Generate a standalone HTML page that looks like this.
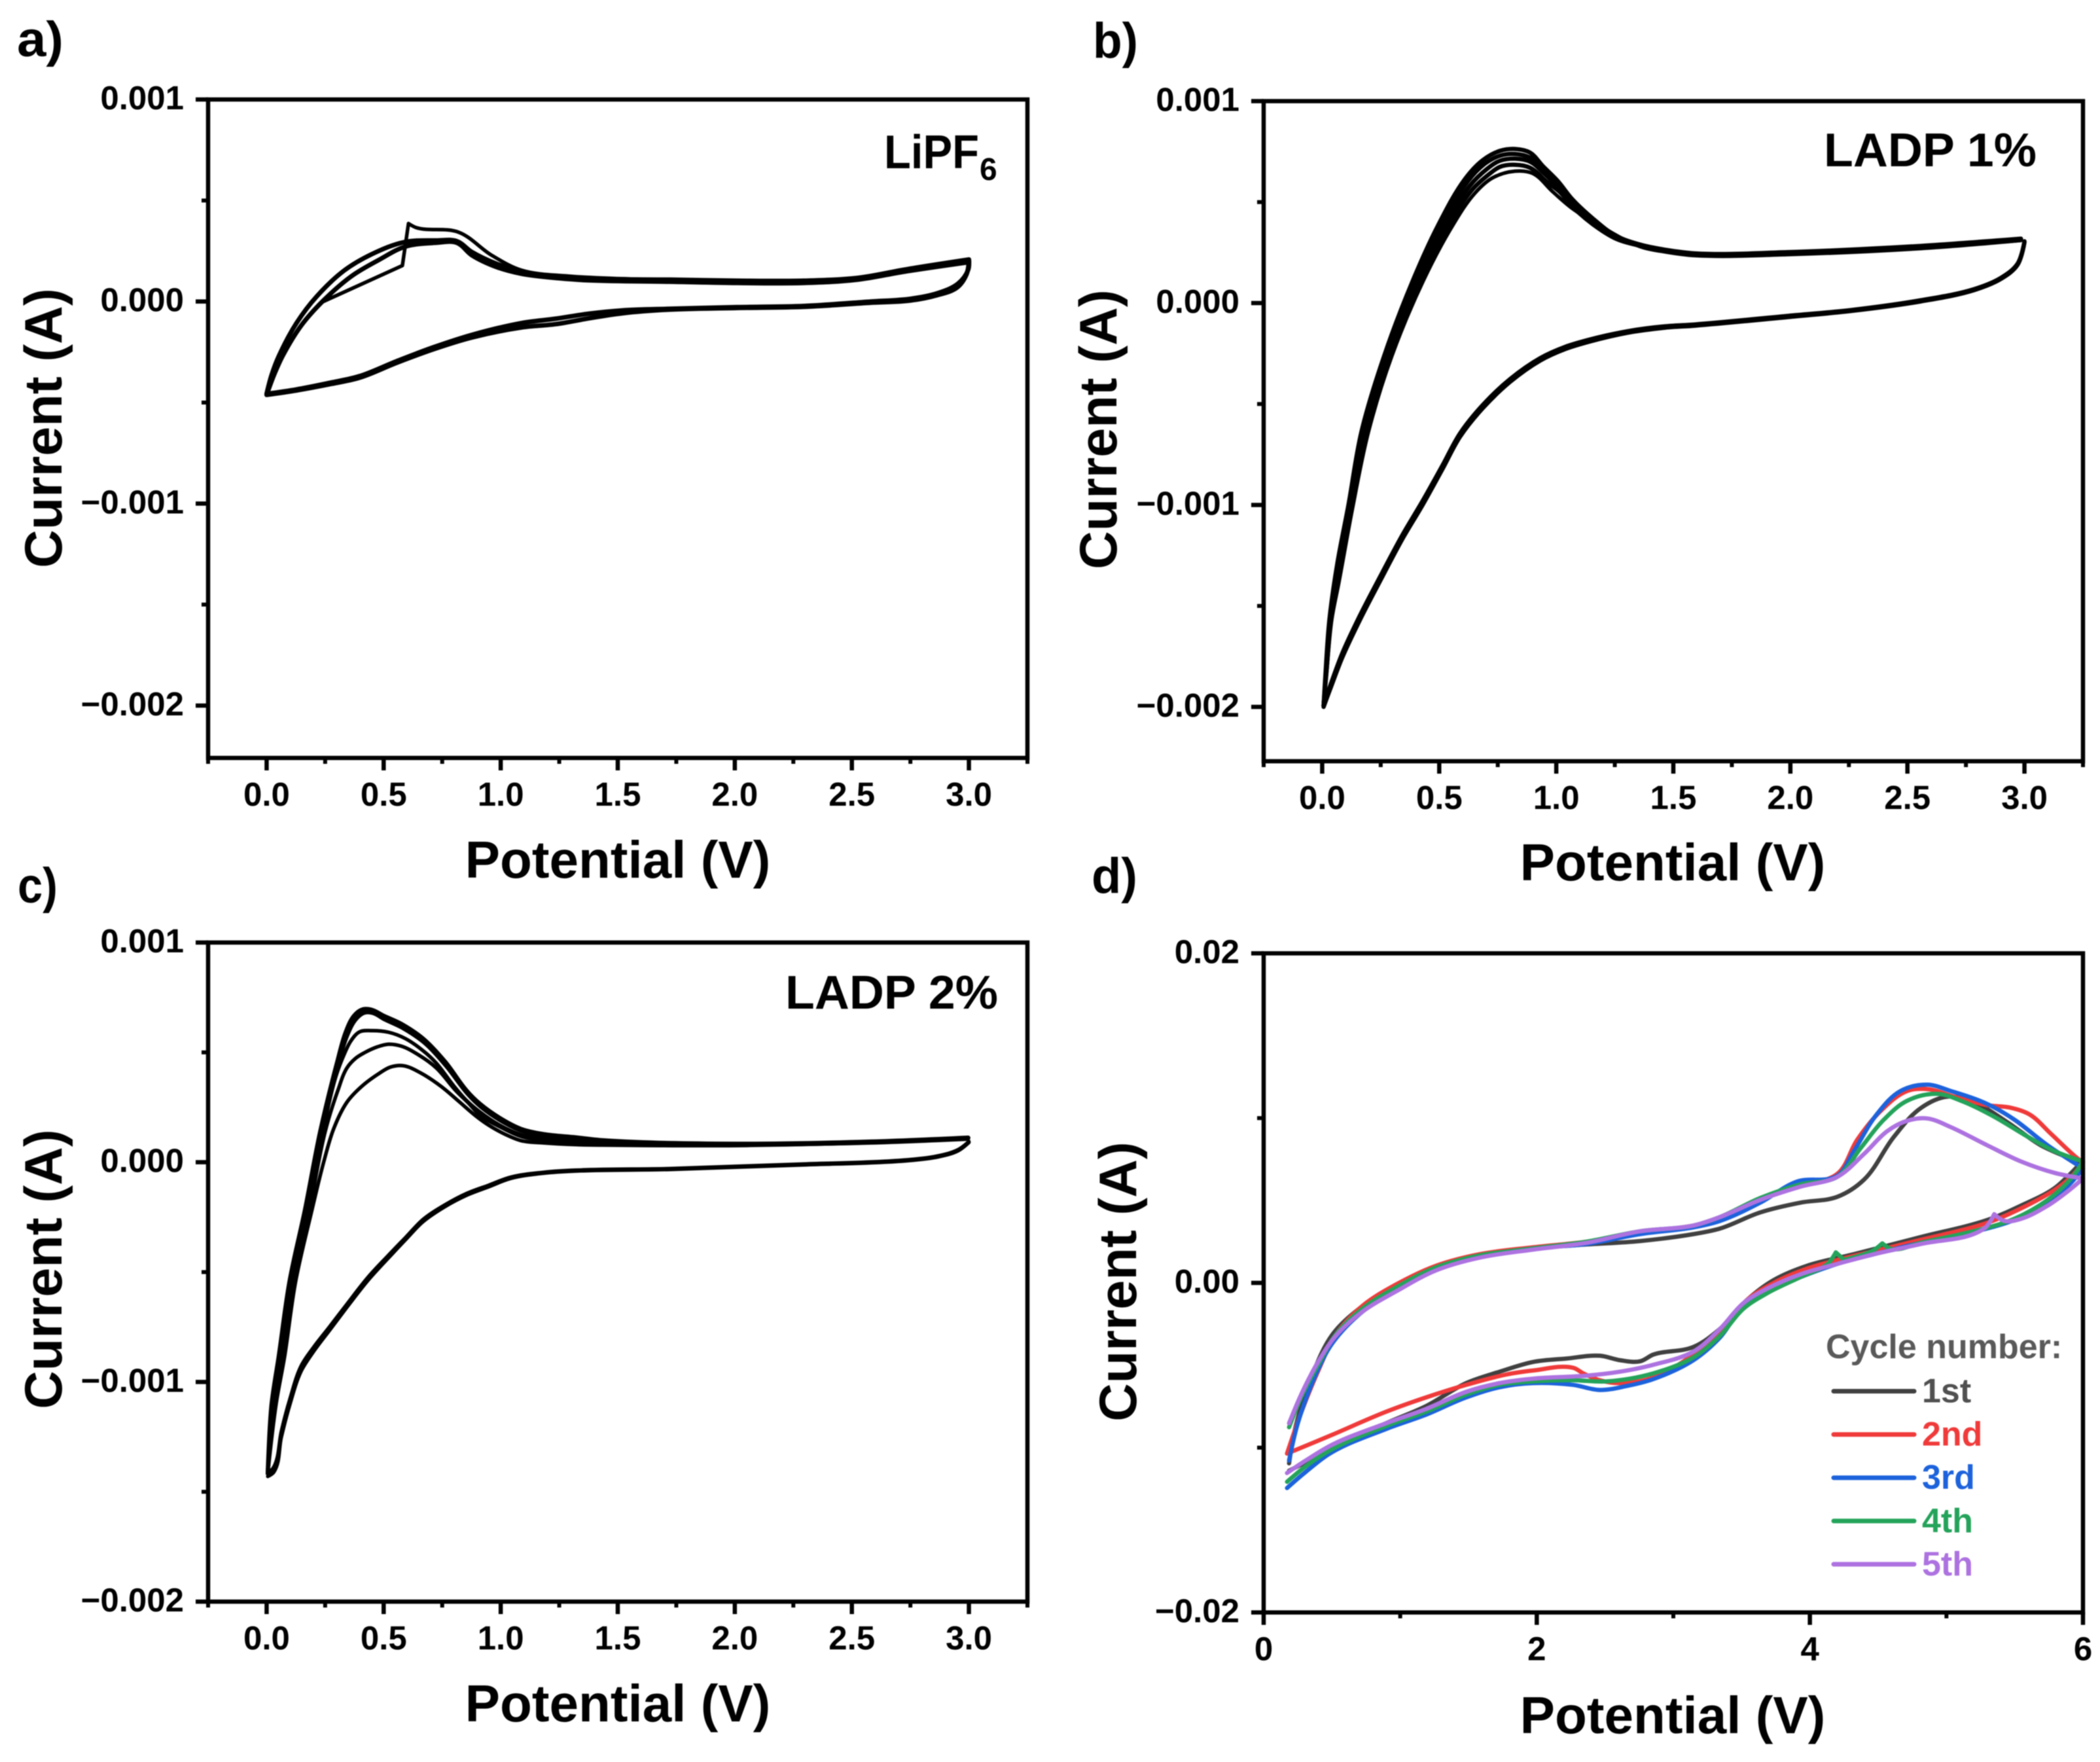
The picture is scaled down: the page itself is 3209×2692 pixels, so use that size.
<!DOCTYPE html>
<html lang="en">
<head>
<meta charset="utf-8">
<title>Cyclic voltammetry panels</title>
<style>
html,body{margin:0;padding:0;background:#fff;}
body{width:3209px;height:2692px;overflow:hidden;}
svg{display:block;filter:blur(0.9px);}
text{font-family:"Liberation Sans",Arial,sans-serif;font-weight:700;fill:#000;}
</style>
</head>
<body>
<svg id="figure" xmlns="http://www.w3.org/2000/svg" width="3209" height="2692" viewBox="0 0 3209 2692">
  <rect width="3209" height="2692" fill="#fff"/>

  <g id="panel-a">
    <text x="26" y="86" font-size="76" textLength="71" lengthAdjust="spacingAndGlyphs">a)</text>
    <text x="944" y="1341" font-size="80" text-anchor="middle">Potential (V)</text>
    <text transform="translate(94,654) rotate(-90)" font-size="81" text-anchor="middle">Current (A)</text>
    <text x="1351" y="257" font-size="72" textLength="145" lengthAdjust="spacingAndGlyphs">LiPF</text>
    <text x="1497" y="275" font-size="48">6</text>
  </g>

  <g id="panel-b">
    <text x="1670" y="88" font-size="76" textLength="69" lengthAdjust="spacingAndGlyphs">b)</text>
    <text x="2556" y="1345" font-size="80" text-anchor="middle">Potential (V)</text>
    <text transform="translate(1706,656) rotate(-90)" font-size="81" text-anchor="middle">Current (A)</text>
    <text x="2787" y="254" font-size="72" textLength="325" lengthAdjust="spacingAndGlyphs">LADP 1%</text>
  </g>

  <g id="panel-c">
    <text x="27" y="1379" font-size="76" textLength="61" lengthAdjust="spacingAndGlyphs">c)</text>
    <text x="944" y="2630" font-size="80" text-anchor="middle">Potential (V)</text>
    <text transform="translate(94,1939) rotate(-90)" font-size="81" text-anchor="middle">Current (A)</text>
    <text x="1200" y="1541" font-size="72" textLength="325" lengthAdjust="spacingAndGlyphs">LADP 2%</text>
  </g>

  <g id="panel-d">
    <text x="1668" y="1364" font-size="76" textLength="70" lengthAdjust="spacingAndGlyphs">d)</text>
    <text x="2556" y="2648" font-size="80" text-anchor="middle">Potential (V)</text>
    <text transform="translate(1736,1958) rotate(-90)" font-size="81" text-anchor="middle">Current (A)</text>
  </g>

  <g id="legend">
    <text x="2790" y="2075" font-size="52" style="fill:#595959">Cycle number:</text>
  </g>
</svg>

<script>
// ---- shared axis ticks ----
const halfVoltTicks = [0, 0.5, 1, 1.5, 2, 2.5, 3];
const halfVoltLabels = ['0.0', '0.5', '1.0', '1.5', '2.0', '2.5', '3.0'];
const halfVoltMinor = [-0.25, 0.25, 0.75, 1.25, 1.75, 2.25, 2.75, 3.25];
const milliampTicks = [1, 0, -1, -2];
const milliampLabels = ['0.001', '0.000', '\u22120.001', '\u22120.002'];
const milliampMinor = [0.5, -0.5, -1.5];
const panelDXTicks = [0, 2, 4, 6];
const panelDXLabels = ['0', '2', '4', '6'];
const panelDXMinor = [1, 3, 5];
const panelDYTicks = [20, 0, -20];
const panelDYLabels = ['0.02', '0.00', '\u22120.02'];
const panelDYMinor = [10, -10];

// ---- panel a: LiPF6 (potential in V, current in 1e-3 A) ----
const aFirstCycleV = [0.242, 0.58, 0.606, 0.639, 0.82, 0.96, 1.088, 1.3, 1.6, 2.0];
const aFirstCycleI = [0, 0.178, 0.386, 0.366, 0.343, 0.23, 0.155, 0.125, 0.11, 0.105];
const aLoopOneV = [3.0, 2.997, 2.954, 2.868, 2.754, 2.58, 2.295, 2.009, 1.722, 1.52, 1.377, 1.235, 1.091, 0.877, 0.716, 0.556, 0.395, 0.267, 0.128, 0, 0.021, 0.053, 0.128, 0.213, 0.331, 0.449, 0.588, 0.727, 0.812, 0.877, 0.984, 1.091, 1.251, 1.377, 1.722, 2.009, 2.295, 2.524, 2.725, 3.0];
const aLoopOneI = [0.208, 0.158, 0.089, 0.042, 0.014, 0, -0.022, -0.028, -0.036, -0.044, -0.06, -0.085, -0.106, -0.165, -0.225, -0.295, -0.37, -0.403, -0.435, -0.457, -0.365, -0.268, -0.106, 0.024, 0.153, 0.234, 0.294, 0.302, 0.299, 0.245, 0.186, 0.148, 0.123, 0.113, 0.108, 0.103, 0.103, 0.117, 0.158, 0.208];
const aLoopTwoV = [3.0, 2.99, 2.95, 2.86, 2.75, 2.58, 2.295, 2.009, 1.722, 1.52, 1.377, 1.235, 1.091, 0.877, 0.716, 0.556, 0.395, 0.267, 0.128, 0, 0.031, 0.069, 0.149, 0.24, 0.363, 0.481, 0.593, 0.727, 0.812, 0.877, 0.984, 1.091, 1.251, 1.377, 1.722, 2.009, 2.295, 2.524, 2.725, 3.0];
const aLoopTwoI = [0.2, 0.135, 0.07, 0.03, 0.005, -0.006, -0.026, -0.032, -0.04, -0.058, -0.083, -0.112, -0.128, -0.178, -0.235, -0.303, -0.378, -0.41, -0.44, -0.462, -0.365, -0.268, -0.117, 0.002, 0.126, 0.207, 0.272, 0.291, 0.291, 0.229, 0.17, 0.137, 0.115, 0.105, 0.098, 0.092, 0.092, 0.108, 0.148, 0.195];

// ---- panel b: LADP 1% ----
const bCycleOneV = [0.006, 0.0135, 0.031, 0.065, 0.111, 0.168, 0.264, 0.386, 0.496, 0.61, 0.685, 0.76, 0.824, 0.888, 0.942, 1.006, 1.07, 1.156, 1.252, 1.359, 1.466, 1.592, 1.985, 2.557, 2.985];
const bCycleOneI = [-1.994, -1.846, -1.567, -1.287, -1.008, -0.636, -0.264, 0.108, 0.387, 0.614, 0.707, 0.754, 0.763, 0.745, 0.679, 0.605, 0.512, 0.419, 0.335, 0.289, 0.264, 0.246, 0.252, 0.283, 0.319];
const bCycleTwoV = [0.006, 0.015, 0.034, 0.07, 0.116, 0.175, 0.272, 0.397, 0.512, 0.62, 0.695, 0.76, 0.824, 0.888, 0.945, 1.006, 1.07, 1.156, 1.252, 1.359, 1.466, 1.592, 1.985, 2.557, 2.985];
const bCycleTwoI = [-1.994, -1.846, -1.567, -1.287, -1.008, -0.636, -0.264, 0.108, 0.387, 0.6, 0.69, 0.73, 0.738, 0.72, 0.662, 0.59, 0.498, 0.41, 0.33, 0.287, 0.262, 0.244, 0.25, 0.28, 0.316];
const bCycleThreeV = [0.006, 0.016, 0.036, 0.072, 0.121, 0.183, 0.28, 0.408, 0.527, 0.63, 0.705, 0.76, 0.824, 0.888, 0.95, 1.01, 1.07, 1.156, 1.252, 1.359, 1.466, 1.592, 1.985, 2.557, 2.985];
const bCycleThreeI = [-1.994, -1.846, -1.567, -1.287, -1.008, -0.636, -0.264, 0.108, 0.387, 0.58, 0.665, 0.705, 0.715, 0.7, 0.64, 0.57, 0.486, 0.4, 0.325, 0.285, 0.26, 0.242, 0.248, 0.277, 0.314];
const bCycleFourV = [0.006, 0.017, 0.038, 0.076, 0.126, 0.19, 0.288, 0.42, 0.543, 0.64, 0.715, 0.76, 0.824, 0.888, 0.96, 1.015, 1.07, 1.156, 1.252, 1.359, 1.466, 1.592, 1.985, 2.557, 2.985];
const bCycleFourI = [-1.994, -1.846, -1.567, -1.287, -1.008, -0.636, -0.264, 0.108, 0.387, 0.56, 0.64, 0.675, 0.685, 0.67, 0.6, 0.55, 0.476, 0.39, 0.32, 0.283, 0.258, 0.24, 0.245, 0.274, 0.312];
const bCycleFiveV = [0.006, 0.018, 0.041, 0.072, 0.131, 0.198, 0.297, 0.431, 0.559, 0.653, 0.728, 0.824, 0.899, 0.985, 1.07, 1.199, 1.359, 1.466, 1.592, 1.985, 2.557, 2.985];
const bCycleFiveI = [-1.994, -1.846, -1.567, -1.38, -1.008, -0.636, -0.264, 0.108, 0.387, 0.545, 0.62, 0.653, 0.642, 0.551, 0.467, 0.374, 0.279, 0.253, 0.235, 0.24, 0.27, 0.31];
const bReverseV = [3.0, 2.97, 2.9, 2.785, 2.557, 2.27, 1.985, 1.592, 1.466, 1.306, 1.145, 1.038, 0.931, 0.803, 0.685, 0.589, 0.514, 0.429, 0.343, 0.257, 0.161, 0.086, 0.038, 0.006];
const bReverseOneI = [0.306, 0.194, 0.125, 0.069, 0.014, -0.033, -0.064, -0.106, -0.115, -0.139, -0.18, -0.217, -0.273, -0.376, -0.506, -0.645, -0.804, -0.98, -1.148, -1.334, -1.548, -1.734, -1.883, -1.994];
const bReverseTwoI = [0.3, 0.188, 0.12, 0.064, 0.008, -0.038, -0.07, -0.112, -0.122, -0.147, -0.19, -0.228, -0.285, -0.39, -0.522, -0.662, -0.822, -1.0, -1.168, -1.355, -1.57, -1.755, -1.9, -2.0];

// ---- panel c: LADP 2% ----
const cReverseV = [3.0, 2.954, 2.868, 2.725, 2.295, 1.722, 1.321, 1.182, 1.042, 0.948, 0.855, 0.762, 0.669, 0.594, 0.52, 0.436, 0.343, 0.268, 0.203, 0.147, 0.1, 0.063, 0.031, 0.005];
const cReverseOneI = [0.094, 0.057, 0.029, 0.01, -0.008, -0.029, -0.036, -0.046, -0.068, -0.105, -0.142, -0.194, -0.26, -0.342, -0.424, -0.52, -0.646, -0.75, -0.839, -0.928, -1.076, -1.224, -1.387, -1.417];
const cReverseTwoI = [0.09, 0.052, 0.024, 0.006, -0.012, -0.033, -0.04, -0.05, -0.074, -0.112, -0.15, -0.202, -0.27, -0.352, -0.436, -0.534, -0.66, -0.766, -0.858, -0.952, -1.1, -1.25, -1.41, -1.43];
const cCycleOneV = [0.005, 0.021, 0.052, 0.098, 0.164, 0.229, 0.304, 0.338, 0.373, 0.408, 0.445, 0.501, 0.576, 0.669, 0.762, 0.855, 0.911, 0.995, 1.088, 1.182, 1.321, 1.436, 2.009, 2.582, 2.997];
const cCycleOneI = [-1.417, -1.105, -0.883, -0.542, -0.216, 0.139, 0.466, 0.592, 0.666, 0.695, 0.695, 0.666, 0.629, 0.562, 0.458, 0.325, 0.266, 0.202, 0.151, 0.128, 0.113, 0.1, 0.084, 0.094, 0.112];
const cCycleTwoV = [0.005, 0.027, 0.058, 0.104, 0.17, 0.235, 0.31, 0.345, 0.38, 0.415, 0.452, 0.505, 0.58, 0.673, 0.766, 0.86, 0.916, 1.0, 1.093, 1.187, 1.321, 1.436, 2.009, 2.582, 2.997];
const cCycleTwoI = [-1.417, -1.105, -0.883, -0.542, -0.216, 0.139, 0.466, 0.58, 0.65, 0.68, 0.68, 0.65, 0.612, 0.545, 0.44, 0.31, 0.252, 0.19, 0.142, 0.12, 0.108, 0.096, 0.082, 0.092, 0.11];
const cCycleThreeV = [0.005, 0.028, 0.06, 0.107, 0.173, 0.24, 0.296, 0.333, 0.361, 0.398, 0.445, 0.52, 0.594, 0.669, 0.725, 0.8, 0.855, 0.911, 0.995, 1.088, 1.182, 1.321, 1.436, 2.009, 2.582, 2.997];
const cCycleThreeI = [-1.417, -1.105, -0.883, -0.542, -0.216, 0.139, 0.391, 0.495, 0.554, 0.594, 0.599, 0.592, 0.562, 0.507, 0.451, 0.347, 0.28, 0.229, 0.169, 0.125, 0.107, 0.095, 0.09, 0.08, 0.09, 0.108];
const cCycleFourV = [0.005, 0.033, 0.068, 0.114, 0.183, 0.25, 0.306, 0.343, 0.38, 0.417, 0.473, 0.52, 0.576, 0.65, 0.725, 0.809, 0.865, 0.911, 0.995, 1.088, 1.182, 1.321, 1.436, 2.009, 2.582, 2.997];
const cCycleFourI = [-1.417, -1.105, -0.883, -0.542, -0.216, 0.139, 0.332, 0.429, 0.473, 0.498, 0.525, 0.537, 0.528, 0.488, 0.429, 0.325, 0.266, 0.214, 0.162, 0.117, 0.1, 0.088, 0.083, 0.078, 0.088, 0.105];
const cCycleFiveV = [0.005, 0.04, 0.077, 0.124, 0.194, 0.245, 0.287, 0.343, 0.408, 0.483, 0.529, 0.585, 0.659, 0.743, 0.818, 0.893, 0.948, 1.023, 1.088, 1.182, 1.321, 1.436, 2.009, 2.582, 2.997];
const cCycleFiveI = [-1.417, -1.105, -0.883, -0.542, -0.216, 0.006, 0.154, 0.273, 0.347, 0.406, 0.433, 0.439, 0.406, 0.347, 0.28, 0.211, 0.169, 0.125, 0.098, 0.088, 0.08, 0.078, 0.076, 0.089, 0.107];

// ---- panel d: five cycles, forward sweep then return sweep ----
const dFirstV = [0.186, 0.235, 0.357, 0.504, 0.7, 0.945, 1.238, 1.581, 1.973, 2.364, 2.756, 3.147, 3.343, 3.637, 3.93, 4.2, 4.396, 4.616, 4.811, 5.007, 5.203, 5.448, 5.693, 5.986, 5.79, 5.546, 5.3, 4.811, 4.322, 3.98, 3.735, 3.539, 3.343, 3.147, 2.854, 2.756, 2.609, 2.462, 2.217, 1.973, 1.728, 1.483, 1.189, 0.896, 0.504, 0.186];
const dFirstI = [-10.95, -8.69, -5.56, -3.13, -1.56, -0.28, 0.87, 1.63, 2.09, 2.33, 2.54, 2.96, 3.3, 4.28, 4.87, 5.22, 6.26, 8.87, 10.6, 11.3, 10.95, 9.74, 8.34, 7.3, 5.74, 4.69, 3.82, 2.78, 1.74, 1.04, 0.17, -1.04, -2.78, -3.89, -4.35, -4.76, -4.69, -4.42, -4.59, -4.8, -5.39, -6.08, -7.48, -8.52, -10.08, -11.4];
const dSecondV = [0.171, 0.269, 0.406, 0.529, 0.724, 0.969, 1.263, 1.581, 1.973, 2.364, 2.756, 3.147, 3.343, 3.637, 3.93, 4.2, 4.347, 4.518, 4.714, 4.87, 5.056, 5.301, 5.463, 5.609, 5.766, 5.942, 6.0, 5.913, 5.79, 5.546, 5.301, 4.811, 4.518, 4.2, 3.98, 3.735, 3.539, 3.343, 3.147, 2.854, 2.609, 2.462, 2.34, 2.266, 1.973, 1.777, 1.483, 1.189, 0.896, 0.504, 0.171];
const dSecondI = [-10.36, -8.0, -5.22, -3.13, -1.39, -0.1, 1.04, 1.74, 2.16, 2.5, 3.06, 3.48, 3.89, 5.04, 5.91, 6.61, 8.69, 10.43, 11.65, 11.75, 11.3, 10.78, 10.64, 10.22, 9.04, 7.68, 7.3, 6.43, 5.63, 4.52, 3.65, 2.61, 2.02, 1.39, 0.87, 0, -1.04, -2.96, -4.35, -5.74, -6.08, -5.91, -5.49, -5.15, -5.32, -5.56, -6.19, -6.95, -7.82, -9.21, -10.36];
const dThirdV = [0.186, 0.25, 0.382, 0.504, 0.7, 0.969, 1.263, 1.581, 1.973, 2.364, 2.756, 3.147, 3.343, 3.637, 3.906, 4.2, 4.322, 4.493, 4.665, 4.86, 5.03, 5.301, 5.497, 5.742, 6.0, 5.913, 5.742, 5.497, 5.252, 4.811, 4.469, 4.2, 3.93, 3.686, 3.514, 3.343, 3.147, 2.854, 2.658, 2.462, 2.266, 1.973, 1.728, 1.483, 1.189, 0.896, 0.504, 0.308, 0.171];
const dThirdI = [-10.78, -8.52, -5.56, -3.65, -1.91, -0.35, 0.87, 1.63, 2.09, 2.36, 2.96, 3.37, 3.76, 4.87, 6.15, 6.5, 8.0, 10.26, 11.65, 12.03, 11.65, 10.85, 9.91, 8.34, 6.95, 6.08, 4.87, 3.82, 3.2, 2.43, 1.74, 1.15, 0.35, -0.52, -1.39, -3.3, -4.69, -5.84, -6.26, -6.5, -6.19, -6.08, -6.33, -6.95, -8.0, -8.87, -10.26, -11.47, -12.45];
const dFourthV = [0.186, 0.284, 0.406, 0.529, 0.724, 0.969, 1.263, 1.581, 1.973, 2.364, 2.756, 3.147, 3.343, 3.637, 3.93, 4.2, 4.371, 4.542, 4.714, 4.934, 5.105, 5.35, 5.595, 5.79, 6.0, 5.913, 5.742, 5.497, 5.277, 4.811, 4.6, 4.53, 4.46, 4.25, 4.19, 4.13, 3.93, 3.686, 3.514, 3.343, 3.147, 2.854, 2.511, 2.266, 1.973, 1.728, 1.483, 1.189, 0.896, 0.504, 0.308, 0.171];
const dFourthI = [-8.76, -6.78, -4.87, -3.13, -1.56, -0.28, 0.94, 1.67, 2.09, 2.5, 3.13, 3.48, 4.0, 5.15, 5.98, 6.43, 8.17, 9.91, 11.06, 11.47, 11.06, 10.08, 8.87, 8.0, 7.37, 6.33, 5.04, 3.89, 3.3, 2.43, 2.05, 2.4, 1.95, 1.4, 1.85, 1.15, 0.35, -0.63, -1.56, -3.2, -4.52, -5.49, -5.98, -5.91, -5.98, -6.19, -6.78, -7.82, -8.69, -10.08, -11.13, -12.07];
const dFifthV = [0.186, 0.284, 0.406, 0.529, 0.724, 0.969, 1.263, 1.581, 1.973, 2.364, 2.756, 3.147, 3.343, 3.637, 3.93, 4.2, 4.396, 4.567, 4.714, 4.86, 5.03, 5.301, 5.546, 5.79, 6.0, 5.889, 5.742, 5.546, 5.423, 5.35, 5.277, 4.811, 4.469, 4.2, 3.93, 3.686, 3.514, 3.343, 3.147, 2.854, 2.609, 2.364, 1.973, 1.728, 1.483, 1.189, 0.896, 0.504, 0.308, 0.171];
const dFifthI = [-8.52, -6.61, -4.69, -3.2, -1.74, -0.52, 0.76, 1.53, 2.02, 2.43, 3.13, 3.48, 4.0, 5.04, 5.84, 6.43, 7.82, 9.21, 9.84, 9.98, 9.46, 8.34, 7.37, 6.68, 6.33, 5.56, 4.69, 3.89, 3.76, 4.17, 3.3, 2.36, 1.74, 1.15, 0.52, -0.35, -1.22, -2.78, -4.17, -4.97, -5.39, -5.63, -5.81, -6.08, -6.61, -7.65, -8.52, -9.81, -10.78, -11.54];

// ---- legend ----
const legendLabels = ['1st', '2nd', '3rd', '4th', '5th'];
const legendColors = ['#404040', '#f03a3a', '#1c62dc', '#24a35a', '#ad72e0'];
const legendTextColors = ['#505050', '#f03a3a', '#1c62dc', '#24a35a', '#ad72e0'];

const SVG_NS = 'http://www.w3.org/2000/svg';

function makeSvg(tag, attrs, parent) {
  const el = document.createElementNS(SVG_NS, tag);
  for (const key in attrs) el.setAttribute(key, attrs[key]);
  parent.appendChild(el);
  return el;
}

function linearScale(d0, d1, r0, r1) {
  return function (v) { return r0 + (v - d0) * (r1 - r0) / (d1 - d0); };
}

// Smooth path through the points, keeping sharp corners where the trace turns abruptly.
function tracePath(pts) {
  const tangents = pts.map(function (p, i) {
    if (i === 0 || i === pts.length - 1) return null;
    const ax = p[0] - pts[i - 1][0], ay = p[1] - pts[i - 1][1];
    const bx = pts[i + 1][0] - p[0], by = pts[i + 1][1] - p[1];
    const la = Math.hypot(ax, ay) || 1, lb = Math.hypot(bx, by) || 1;
    const cos = (ax * bx + ay * by) / (la * lb);
    if (cos < 0.55) return null;
    const tx = ax / la + bx / lb, ty = ay / la + by / lb;
    const lt = Math.hypot(tx, ty) || 1;
    return [tx / lt, ty / lt];
  });
  let d = 'M' + pts[0][0].toFixed(1) + ' ' + pts[0][1].toFixed(1);
  for (let i = 0; i < pts.length - 1; i++) {
    const p = pts[i], q = pts[i + 1];
    const len = Math.hypot(q[0] - p[0], q[1] - p[1]) / 3;
    const c1 = tangents[i] ? [p[0] + tangents[i][0] * len, p[1] + tangents[i][1] * len] : p;
    const c2 = tangents[i + 1] ? [q[0] - tangents[i + 1][0] * len, q[1] - tangents[i + 1][1] * len] : q;
    d += 'C' + c1[0].toFixed(1) + ' ' + c1[1].toFixed(1) + ' ' + c2[0].toFixed(1) + ' ' + c2[1].toFixed(1) + ' ' + q[0].toFixed(1) + ' ' + q[1].toFixed(1);
  }
  return d;
}

function drawPanel(cfg) {
  const group = document.getElementById('panel-' + cfg.id);
  const x = linearScale(cfg.xDomain[0], cfg.xDomain[1], cfg.left, cfg.right);
  const y = linearScale(cfg.yTop, cfg.yRef, cfg.top, cfg.yRefPx);
  const bottomPx = cfg.bottom;

  cfg.curves.forEach(function (curve) {
    const pts = curve.v.map(function (v, i) { return [x(v), y(curve.i[i])]; });
    const path = makeSvg('path', {
      d: tracePath(pts), fill: 'none', stroke: curve.color,
      'stroke-width': curve.width, 'stroke-linejoin': 'round', 'stroke-linecap': 'round'
    }, group);
    
    
  });

  const frame = makeSvg('rect', {
    x: cfg.left, y: cfg.top, width: cfg.right - cfg.left, height: bottomPx - cfg.top,
    fill: 'none', stroke: '#000', 'stroke-width': 6.5
  }, group);
  
  

  cfg.xTicks.forEach(function (v, i) {
    const tick = makeSvg('line', { x1: x(v), x2: x(v), y1: bottomPx, y2: bottomPx + 19, stroke: '#000', 'stroke-width': 6.5 }, group);
    
    
    const label = makeSvg('text', { x: x(v), y: bottomPx + 73, 'font-size': 51, 'text-anchor': 'middle' }, group);
    label.textContent = cfg.xLabels[i];
    
    
  });
  cfg.xMinor.forEach(function (v) {
    const tick = makeSvg('line', { x1: x(v), x2: x(v), y1: bottomPx, y2: bottomPx + 9, stroke: '#000', 'stroke-width': 6 }, group);
    
    
  });
  cfg.yTicks.forEach(function (v, i) {
    const tick = makeSvg('line', { x1: cfg.left - 19, x2: cfg.left, y1: y(v), y2: y(v), stroke: '#000', 'stroke-width': 6.5 }, group);
    
    
    const label = makeSvg('text', { x: cfg.left - 37, y: y(v) + 15, 'font-size': 51, 'text-anchor': 'end' }, group);
    label.textContent = cfg.yLabels[i];
    
    
  });
  cfg.yMinor.forEach(function (v) {
    const tick = makeSvg('line', { x1: cfg.left - 10, x2: cfg.left, y1: y(v), y2: y(v), stroke: '#000', 'stroke-width': 6 }, group);
    
    
  });
}

const BLACK = '#000';
const W = 6.5;

drawPanel({
  id: 'a', left: 318, right: 1570, top: 152, bottom: 1158,
  xDomain: [-0.25, 3.25], yTop: 1, yRef: -2, yRefPx: 1078,
  xTicks: halfVoltTicks, xLabels: halfVoltLabels, xMinor: halfVoltMinor,
  yTicks: milliampTicks, yLabels: milliampLabels, yMinor: milliampMinor,
  curves: [
    { name: 'cycle-1', v: aFirstCycleV, i: aFirstCycleI, color: BLACK, width: 5.5 },
    { name: 'cycle-2', v: aLoopOneV, i: aLoopOneI, color: BLACK, width: 7 },
    { name: 'cycle-3', v: aLoopTwoV, i: aLoopTwoI, color: BLACK, width: 7 }
  ]
});

drawPanel({
  id: 'b', left: 1931, right: 3183, top: 154.5, bottom: 1163,
  xDomain: [-0.25, 3.25], yTop: 1, yRef: -2, yRefPx: 1080,
  xTicks: halfVoltTicks, xLabels: halfVoltLabels, xMinor: halfVoltMinor,
  yTicks: milliampTicks, yLabels: milliampLabels, yMinor: milliampMinor,
  curves: [
    { name: 'cycle-1-forward', v: bCycleOneV, i: bCycleOneI, color: BLACK, width: W },
    { name: 'cycle-2-forward', v: bCycleTwoV, i: bCycleTwoI, color: BLACK, width: W },
    { name: 'cycle-3-forward', v: bCycleThreeV, i: bCycleThreeI, color: BLACK, width: W },
    { name: 'cycle-4-forward', v: bCycleFourV, i: bCycleFourI, color: BLACK, width: W },
    { name: 'cycle-5-forward', v: bCycleFiveV, i: bCycleFiveI, color: BLACK, width: 5.5 },
    { name: 'cycle-1-reverse', v: bReverseV, i: bReverseOneI, color: BLACK, width: W },
    { name: 'cycle-2-reverse', v: bReverseV, i: bReverseTwoI, color: BLACK, width: W }
  ]
});

drawPanel({
  id: 'c', left: 318, right: 1570, top: 1440, bottom: 2447,
  xDomain: [-0.25, 3.25], yTop: 1, yRef: -2, yRefPx: 2447,
  xTicks: halfVoltTicks, xLabels: halfVoltLabels, xMinor: halfVoltMinor,
  yTicks: milliampTicks, yLabels: milliampLabels, yMinor: milliampMinor,
  curves: [
    { name: 'cycle-1-reverse', v: cReverseV, i: cReverseOneI, color: BLACK, width: 5.5 },
    { name: 'cycle-2-reverse', v: cReverseV, i: cReverseTwoI, color: BLACK, width: 5.5 },
    { name: 'cycle-1-forward', v: cCycleOneV, i: cCycleOneI, color: BLACK, width: W },
    { name: 'cycle-2-forward', v: cCycleTwoV, i: cCycleTwoI, color: BLACK, width: W },
    { name: 'cycle-3-forward', v: cCycleThreeV, i: cCycleThreeI, color: BLACK, width: 5.5 },
    { name: 'cycle-4-forward', v: cCycleFourV, i: cCycleFourI, color: BLACK, width: 5.5 },
    { name: 'cycle-5-forward', v: cCycleFiveV, i: cCycleFiveI, color: BLACK, width: 5.5 }
  ]
});

drawPanel({
  id: 'd', left: 1931, right: 3183, top: 1456.5, bottom: 2463.5,
  xDomain: [0, 6], yTop: 20, yRef: -20, yRefPx: 2463.5,
  xTicks: panelDXTicks, xLabels: panelDXLabels, xMinor: panelDXMinor,
  yTicks: panelDYTicks, yLabels: panelDYLabels, yMinor: panelDYMinor,
  curves: [
    { name: 'cycle-1st', v: dFirstV, i: dFirstI, color: legendColors[0], width: W },
    { name: 'cycle-2nd', v: dSecondV, i: dSecondI, color: legendColors[1], width: W },
    { name: 'cycle-3rd', v: dThirdV, i: dThirdI, color: legendColors[2], width: W },
    { name: 'cycle-4th', v: dFourthV, i: dFourthI, color: legendColors[3], width: W },
    { name: 'cycle-5th', v: dFifthV, i: dFifthI, color: legendColors[4], width: W }
  ]
});

const legendGroup = document.getElementById('legend');
legendGroup.parentNode.appendChild(legendGroup);
legendLabels.forEach(function (labelText, i) {
  const rowY = 2125.5 + i * 66.1;
  const swatch = makeSvg('line', { x1: 2802, x2: 2925, y1: rowY, y2: rowY, stroke: legendColors[i], 'stroke-width': 7, 'stroke-linecap': 'round' }, legendGroup);
  
  
  const label = makeSvg('text', { x: 2937, y: rowY + 17, 'font-size': 52 }, legendGroup);
  label.textContent = labelText;
  label.style.fill = legendTextColors[i];
  
  
});
</script>
</body>
</html>
